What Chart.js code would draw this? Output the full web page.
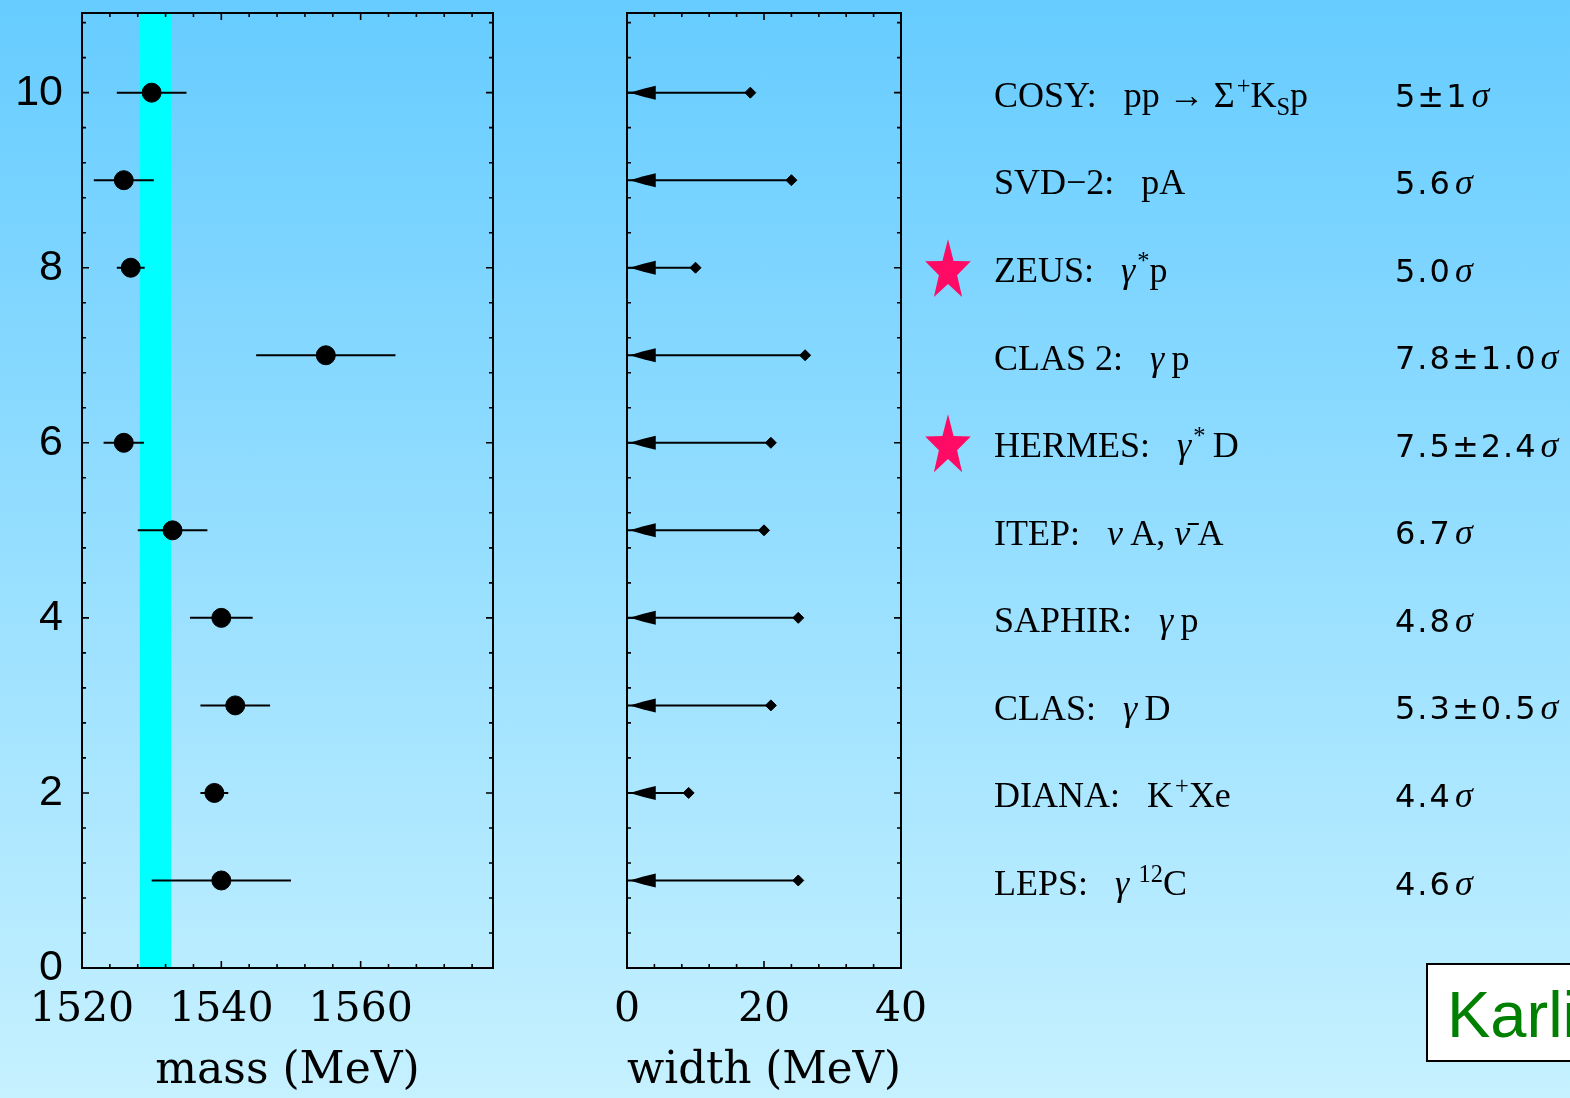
<!DOCTYPE html>
<html>
<head>
<meta charset="utf-8">
<script src="https://cdn.jsdelivr.net/npm/chart.js@4.4.1/dist/chart.umd.min.js"></script>
<style>
  html, body { margin: 0; padding: 0; }
  body {
    width: 1570px; height: 1098px; overflow: hidden; position: relative;
    background: linear-gradient(to bottom, #66ccff 0%, #c6f1ff 100%);
  }
  canvas { position: absolute; top: 0; }
  #mass-chart { left: 0; }
  #width-chart { left: 540px; }
  .lbl, .sig { position: absolute; white-space: nowrap; color: #000; }
  .lbl { left: 994px; font: 36px "Liberation Serif", serif; line-height: 36px; }
  .sig { left: 1395px; font: 32px "DejaVu Sans", sans-serif; line-height: 32px; letter-spacing: 2px; }
  .sig i { font: italic 36px "Liberation Serif", serif; margin-left: 3px; line-height: 0; }
  sup, sub { line-height: 0; font-size: 0.68em; }
  .lbl sup { margin-left: 2px; }
  #stars { position: absolute; left: 0; top: 0; pointer-events: none; }
  #ref-box {
    position: absolute; left: 1426px; top: 963px; width: 300px; height: 95px;
    border: 2px solid #000; background: #fff;
  }
  #ref-box span {
    position: absolute; left: 19px; top: 17px;
    font: 65px "Liberation Sans", Arial, sans-serif; line-height: 65px; color: #008000;
  }
</style>
</head>
<body>
<canvas id="mass-chart" width="540" height="1098"></canvas>
<canvas id="width-chart" width="420" height="1098"></canvas>
<svg id="stars" width="1570" height="1098"></svg>
<div id="ref-box"><span>Karliner</span></div>
<script>
// 数据
const rowPos = [10, 9, 8, 7, 6, 5, 4, 3, 2, 1];
const experiments = ['COSY', 'SVD−2', 'ZEUS', 'CLAS 2', 'HERMES', 'ITEP', 'SAPHIR', 'CLAS', 'DIANA', 'LEPS'];
const reactions = [
  'pp → Σ<sup>+</sup>K<sub>S</sub>p', 'pA', '<i>γ</i><sup>*</sup>p', '<i>γ</i>&thinsp;p', '<i>γ</i><sup>*</sup>&thinsp;D',
  '<i>ν</i>&thinsp;A, <i>ν̄</i>&thinsp;A', '<i>γ</i>&thinsp;p', '<i>γ</i>&thinsp;D', 'K<sup>+</sup>Xe', '<i>γ</i>&thinsp;<sup>12</sup>C'
];
const significance = ['5±1', '5.6', '5.0', '7.8±1.0', '7.5±2.4', '6.7', '4.8', '5.3±0.5', '4.4', '4.6'];
const starred = [false, false, true, false, true, false, false, false, false, false];
const massValues = [1530, 1526, 1527, 1555, 1526, 1533, 1540, 1542, 1539, 1540];
const massErrors = [5, 4.3, 2, 10, 2.9, 5, 4.5, 5, 2, 10];
const widthLimits = [18, 24, 10, 26, 21, 20, 25, 21, 9, 25];
const massBand = [1528.3, 1532.8];
const massTicks = [1520, 1540, 1560];
const widthTicks = [0, 20, 40];
const rowTicks = [0, 2, 4, 6, 8, 10];

const ink = '#000';
const serifFont = 'DejaVu Serif';

// 边框和内向刻度
const frameTicks = {
  id: 'frameTicks',
  afterDraw(chart, args, opts) {
    const { ctx, chartArea: a, scales: { x, y } } = chart;
    ctx.save();
    ctx.strokeStyle = ink;
    ctx.lineWidth = 2;
    ctx.strokeRect(a.left, a.top, a.right - a.left, a.bottom - a.top);
    ctx.lineWidth = 1.6;
    ctx.beginPath();
    for (let v = x.min; v <= x.max + 1e-6; v += opts.xMinor) {
      const px = x.getPixelForValue(v);
      const len = opts.xMajor.includes(Math.round(v * 100) / 100) ? 7 : 4;
      ctx.moveTo(px, a.bottom); ctx.lineTo(px, a.bottom - len);
      ctx.moveTo(px, a.top); ctx.lineTo(px, a.top + len);
    }
    for (let v = 0; v <= y.max + 1e-6; v += opts.yMinor) {
      const py = y.getPixelForValue(v);
      const len = rowTicks.includes(Math.round(v * 100) / 100) ? 7 : 4;
      ctx.moveTo(a.left, py); ctx.lineTo(a.left + len, py);
      ctx.moveTo(a.right, py); ctx.lineTo(a.right - len, py);
    }
    ctx.stroke();
    ctx.restore();
  }
};

// 质量带和误差棒
const massDecor = {
  id: 'massDecor',
  beforeDatasetsDraw(chart) {
    const { ctx, chartArea: a, scales: { x, y } } = chart;
    ctx.save();
    const x1 = x.getPixelForValue(massBand[0]);
    const x2 = x.getPixelForValue(massBand[1]);
    ctx.fillStyle = '#00ffff';
    ctx.fillRect(x1, a.top, x2 - x1, a.bottom - a.top);
    ctx.strokeStyle = ink;
    ctx.lineWidth = 2;
    ctx.beginPath();
    massValues.forEach((m, i) => {
      const py = y.getPixelForValue(rowPos[i]);
      ctx.moveTo(x.getPixelForValue(m - massErrors[i]), py);
      ctx.lineTo(x.getPixelForValue(m + massErrors[i]), py);
    });
    ctx.stroke();
    ctx.restore();
  }
};

// 宽度上限箭头
const widthArrows = {
  id: 'widthArrows',
  beforeDatasetsDraw(chart) {
    const { ctx, scales: { x, y } } = chart;
    ctx.save();
    ctx.strokeStyle = ink;
    ctx.fillStyle = ink;
    ctx.lineWidth = 2;
    widthLimits.forEach((w, i) => {
      const py = y.getPixelForValue(rowPos[i]);
      const x0 = x.getPixelForValue(0);
      ctx.beginPath();
      ctx.moveTo(x0, py);
      ctx.lineTo(x.getPixelForValue(w), py);
      ctx.stroke();
      ctx.beginPath();
      ctx.moveTo(x.getPixelForValue(0.4), py);
      ctx.lineTo(x.getPixelForValue(2.4), py - 4);
      ctx.lineTo(x.getPixelForValue(4.2), py - 7);
      ctx.lineTo(x.getPixelForValue(4.2), py + 7);
      ctx.lineTo(x.getPixelForValue(2.4), py + 4);
      ctx.closePath();
      ctx.fill();
    });
    ctx.restore();
  }
};

function axisOptions(min, max, ticks, title) {
  return {
    type: 'linear', min, max,
    afterBuildTicks: s => { s.ticks = ticks.map(v => ({ value: v })); },
    afterFit: s => { s.height = 130; s.paddingLeft = 0; s.paddingRight = 0; },
    grid: { display: false, drawTicks: false },
    border: { display: false },
    ticks: {
      font: { family: serifFont, size: 41 }, color: ink, padding: 18, maxRotation: 0, autoSkip: false,
      callback: v => String(v)
    },
    title: { display: true, text: title, font: { family: serifFont, size: 44 }, color: ink, padding: 0 }
  };
}

function rowAxis(width, showLabels) {
  return {
    type: 'linear', min: 0, max: 10.91,
    afterBuildTicks: s => { s.ticks = rowTicks.map(v => ({ value: v })); },
    afterFit: s => { s.width = width; s.paddingTop = 0; s.paddingBottom = 0; },
    grid: { display: false, drawTicks: false },
    border: { display: false },
    ticks: {
      display: showLabels, font: { family: 'Liberation Sans', size: 43 }, color: ink, padding: 19,
      callback: v => String(v)
    }
  };
}

const massChart = new Chart(document.getElementById('mass-chart'), {
  type: 'scatter',
  data: {
    datasets: [{
      data: massValues.map((m, i) => ({ x: m, y: rowPos[i] })),
      backgroundColor: ink, borderColor: ink, pointRadius: 9.5, borderWidth: 1
    }]
  },
  options: {
    responsive: false, animation: false,
    layout: { padding: { top: 13, right: 47, bottom: 0, left: 0 } },
    plugins: { legend: { display: false }, tooltip: { enabled: false }, frameTicks: { xMinor: 4, yMinor: 0.4, xMajor: massTicks } },
    scales: { x: axisOptions(1520, 1579, massTicks, 'mass (MeV)'), y: rowAxis(82, true) }
  },
  plugins: [massDecor, frameTicks]
});

const widthChart = new Chart(document.getElementById('width-chart'), {
  type: 'scatter',
  data: {
    datasets: [{
      data: widthLimits.map((w, i) => ({ x: w, y: rowPos[i] })),
      backgroundColor: ink, borderColor: ink, pointStyle: 'rectRot', pointRadius: 5.5, borderWidth: 1
    }]
  },
  options: {
    responsive: false, animation: false,
    layout: { padding: { top: 13, right: 59, bottom: 0, left: 0 } },
    plugins: { legend: { display: false }, tooltip: { enabled: false }, frameTicks: { xMinor: 4, yMinor: 0.4, xMajor: widthTicks } },
    scales: { x: axisOptions(0, 40, widthTicks, 'width (MeV)'), y: rowAxis(87, false) }
  },
  plugins: [widthArrows, frameTicks]
});

// 右侧实验标签
const yScale = massChart.scales.y;
const svg = document.getElementById('stars');
rowPos.forEach((r, i) => {
  const py = yScale.getPixelForValue(r);
  const lbl = document.createElement('div');
  lbl.className = 'lbl';
  lbl.style.top = (py - 15.7) + 'px';
  lbl.innerHTML = experiments[i] + ':&ensp;&nbsp;' + reactions[i];
  document.body.appendChild(lbl);

  const sig = document.createElement('div');
  sig.className = 'sig';
  sig.style.top = (py - 12.9) + 'px';
  sig.innerHTML = significance[i] + '<i>σ</i>';
  document.body.appendChild(sig);

  if (starred[i]) {
    const cx = 948, cy = py + 3.5, R = 32, sx = 0.75;
    const pts = [];
    for (let k = 0; k < 10; k++) {
      const ang = -Math.PI / 2 + k * Math.PI / 5;
      const rr = k % 2 ? R * 0.4 : R;
      pts.push((cx + Math.cos(ang) * rr * sx).toFixed(1) + ',' + (cy + Math.sin(ang) * rr).toFixed(1));
    }
    const star = document.createElementNS('http://www.w3.org/2000/svg', 'polygon');
    star.setAttribute('points', pts.join(' '));
    star.setAttribute('fill', '#ff0a64');
    svg.appendChild(star);
  }
});
</script>
</body>
</html>
